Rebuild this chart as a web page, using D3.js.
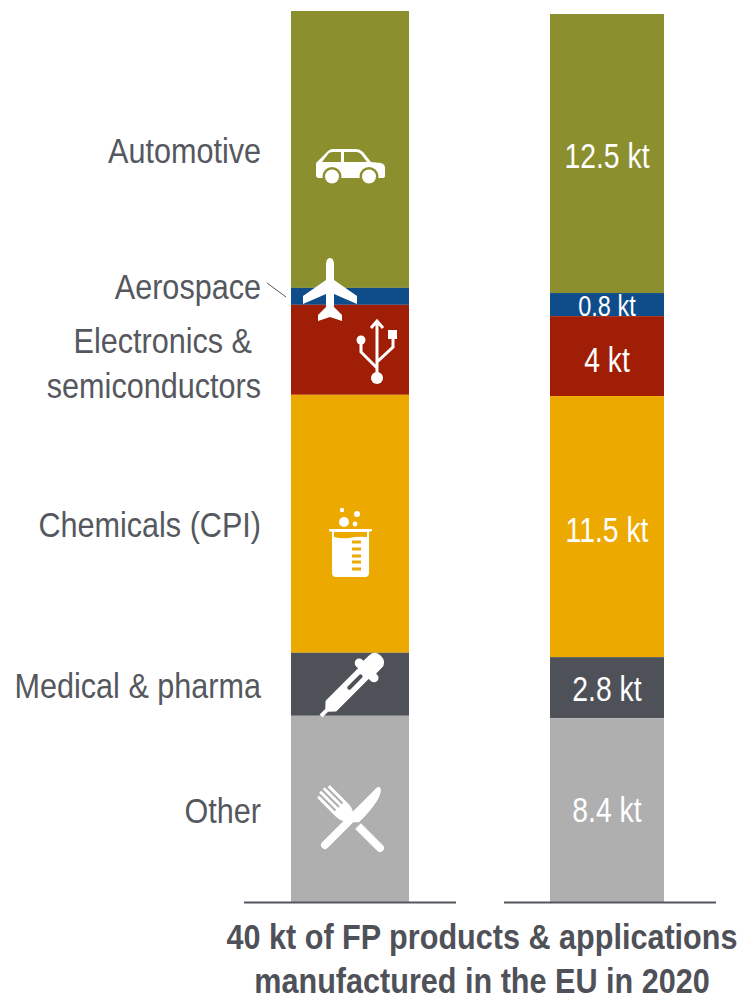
<!DOCTYPE html>
<html>
<head>
<meta charset="utf-8">
<script src="https://cdn.jsdelivr.net/npm/d3@7"></script>
<style>
  html, body { margin: 0; padding: 0; background: #fff; }
  svg { display: block; }
  text { font-family: "Liberation Sans", Arial, sans-serif; }
</style>
</head>
<body>
<div id="chart"></div>
<script>
const width = 740;
const height = 997;

const categories = ["Automotive", "Aerospace", "Electronics & semiconductors", "Chemicals (CPI)", "Medical & pharma", "Other"];
const colors = ["#8c8f2e", "#0f4c8a", "#a01e06", "#eca900", "#4f5159", "#afafaf"];
// kt; the two drawn bars are not quite the same
const leftValues = [12.43, 0.76, 4.04, 11.58, 2.83, 8.36];
const rightValues = [12.57, 1.04, 3.6, 11.76, 2.75, 8.28];
const valueLabels = ["12.5 kt", "0.8 kt", "4 kt", "11.5 kt", "2.8 kt", "8.4 kt"];
const total = 40;

const svg = d3.select("#chart")
    .append("svg")
    .attr("width", width)
    .attr("height", height);

const yLeft = d3.scaleLinear().domain([0, total]).range([902, 11]);
const yRight = d3.scaleLinear().domain([0, total]).range([902, 14]);

function stackUp(values) {
    let sum = total;
    return values.map((v, i) => {
        const top = sum;
        sum -= v;
        return { i: i, top: top, bottom: sum };
    });
}

function drawBar(values, y, x0, x1) {
    svg.append("g").selectAll("rect")
        .data(stackUp(values))
        .enter()
        .append("rect")
        .attr("x", x0)
        .attr("width", x1 - x0)
        .attr("y", d => y(d.top))
        .attr("height", d => y(d.bottom) - y(d.top))
        .attr("fill", d => colors[d.i]);
}

drawBar(leftValues, yLeft, 291, 409);
drawBar(rightValues, yRight, 550, 664);

// base lines
[[244, 456], [504, 716]].forEach(d => {
    svg.append("line")
        .attr("x1", d[0]).attr("x2", d[1])
        .attr("y1", 902.5).attr("y2", 902.5)
        .attr("stroke", "#53565c")
        .attr("stroke-width", 2);
});

// the original type is squeezed sideways, so scale x only
const squeeze = 0.85;

// category labels, broken over lines by hand as in the original
const labelRows = [
    { text: "Automotive", x: 261, y: 163 },
    { text: "Aerospace", x: 261, y: 299 },
    { text: "Electronics &", x: 252, y: 353 },
    { text: "semiconductors", x: 261, y: 398 },
    { text: "Chemicals (CPI)", x: 261, y: 537 },
    { text: "Medical & pharma", x: 261, y: 698 },
    { text: "Other", x: 261, y: 823 }
];

svg.append("g").selectAll("text")
    .data(labelRows)
    .enter()
    .append("text")
    .attr("transform", d => "translate(" + d.x + "," + d.y + ") scale(" + squeeze + ",1)")
    .attr("text-anchor", "end")
    .attr("font-size", 36)
    .attr("fill", "#55585e")
    .text(d => d.text);

svg.append("line")
    .attr("x1", 267).attr("y1", 283)
    .attr("x2", 286).attr("y2", 297)
    .attr("stroke", "#55585e")
    .attr("stroke-width", 1);

// value labels in the right bar
const valueShift = [14, 11, 16, 15, 13, 12];
svg.append("g").selectAll("text")
    .data(stackUp(rightValues))
    .enter()
    .append("text")
    .attr("transform", d => "translate(607," + ((yRight(d.top) + yRight(d.bottom)) / 2 + valueShift[d.i]) + ") scale(0.81,1)")
    .attr("text-anchor", "middle")
    .attr("font-size", d => d.i === 1 ? 29 : 35)
    .attr("fill", "#fff")
    .text(d => valueLabels[d.i]);

// title
["40 kt of FP products & applications", "manufactured in the EU in 2020"].forEach((t, i) => {
    svg.append("text")
        .attr("transform", "translate(482," + (949 + i * 44) + ") scale(" + squeeze + ",1)")
        .attr("text-anchor", "middle")
        .attr("font-size", 36)
        .attr("font-weight", "bold")
        .attr("fill", "#4f5159")
        .text(t);
});

// icons
function icon(transform) {
    return svg.append("g").attr("transform", transform);
}

// car
const car = icon("translate(316,149)");
car.append("path")
    .attr("fill", "#fff")
    .attr("d", "M0 14 L12 2 Q14 0 17 0 L40 0 Q44 0 47 3 L55 13 L65 14 Q69 15 69 19 L69 27 Q69 29 66 29 L3 29 Q0 29 0 26 Z");
car.append("path").attr("fill", colors[0]).attr("d", "M6 13 L13 4 Q15 3 17 3 L25 3 L25 13 Z");
car.append("path").attr("fill", colors[0]).attr("d", "M28 3 L40 3 Q43 3 45 5 L51 13 L28 13 Z");
[16, 53].forEach(cx => {
    car.append("circle").attr("cx", cx).attr("cy", 27.5).attr("r", 9.5).attr("fill", colors[0]);
    car.append("circle").attr("cx", cx).attr("cy", 27.5).attr("r", 7).attr("fill", "#fff");
});

// plane
icon("translate(330,258)").append("path")
    .attr("fill", "#fff")
    .attr("d", "M0 0 Q4 0 4 7 L4 22 L27 38 L27 46 L4 36 L4 49 L12 57 L12 63 L0 59 L-12 63 L-12 57 L-4 49 L-4 36 L-27 46 L-27 38 L-4 22 L-4 7 Q-4 0 0 0 Z");

// usb
const usb = icon("translate(377,319)");
usb.append("path")
    .attr("fill", "none")
    .attr("stroke", "#fff")
    .attr("stroke-width", 3)
    .attr("d", "M0 3 L0 56 M-6 9 L0 2 L6 9 M-16 21 L-16 33 L0 49 M16 20 L16 28 L0 43");
usb.append("circle").attr("cx", 0).attr("cy", 59).attr("r", 6).attr("fill", "#fff");
usb.append("circle").attr("cx", -16).attr("cy", 21).attr("r", 4.5).attr("fill", "#fff");
usb.append("rect").attr("x", 11).attr("y", 11).attr("width", 9).attr("height", 9).attr("fill", "#fff");

// beaker
const beaker = icon("translate(329,529)");
beaker.append("path")
    .attr("fill", "#fff")
    .attr("d", "M0 0 L43 0 L43 2 L40 3 L40 44 Q40 48 36 48 L7 48 Q3 48 3 44 L3 3 L0 2 Z");
beaker.append("path")
    .attr("fill", colors[3])
    .attr("d", "M5 3 L38 3 L38 8 Q28 7 20 9 Q12 10 5 8 Z");
[13, 20, 27, 33, 40].forEach(y => {
    beaker.append("rect").attr("x", 23).attr("y", y - 1.5).attr("width", 9).attr("height", 3).attr("fill", colors[3]);
});
[[344, 522, 5], [357, 514, 3], [342, 510, 2.2], [355, 524, 2.4]].forEach(b => {
    svg.append("circle").attr("cx", b[0]).attr("cy", b[1]).attr("r", b[2]).attr("fill", "#fff");
});

// dropper, drawn along its own axis
const dropper = icon("translate(321,716) rotate(-45)");
dropper.append("path")
    .attr("fill", "#fff")
    .attr("d", "M0 -2 L8 -2 L14 -7.5 L62 -7.5 L62 7.5 L14 7.5 L8 2 L0 2 Z");
dropper.append("rect").attr("x", 60).attr("y", -15).attr("width", 9).attr("height", 30).attr("rx", 4.5).attr("fill", "#fff");
dropper.append("path").attr("fill", "#fff").attr("d", "M67 -9 L76 -9 Q85 -9 85 0 Q85 9 76 9 L67 9 Z");
dropper.append("rect").attr("x", 38).attr("y", -2).attr("width", 20).attr("height", 4).attr("rx", 2).attr("fill", colors[4]);

// fork
const fork = icon("translate(380,848) rotate(135)");
fork.append("path")
    .attr("fill", "#fff")
    .attr("d", "M-4 0 A4 4 0 0 1 4 0 L4 31 L-4 31 Z");
fork.append("path")
    .attr("fill", "#fff")
    .attr("d", "M-2 40 Q-9 45 -9 54 L-9 80 L-6 80 L-6 58 L-4 58 L-4 82 L-1 82 L-1 58 L1 58 L1 82 L4 82 L4 58 L6 58 L6 80 L9 80 L9 54 Q9 45 2 40 Z");

// knife
icon("translate(325,845) rotate(-45)").append("path")
    .attr("fill", "#fff")
    .attr("d", "M0 -4 L76 -4 Q81 -4 79 0 Q72 8 40 8 L36 4 L0 4 A4 4 0 0 1 0 -4 Z");
</script>
</body>
</html>
